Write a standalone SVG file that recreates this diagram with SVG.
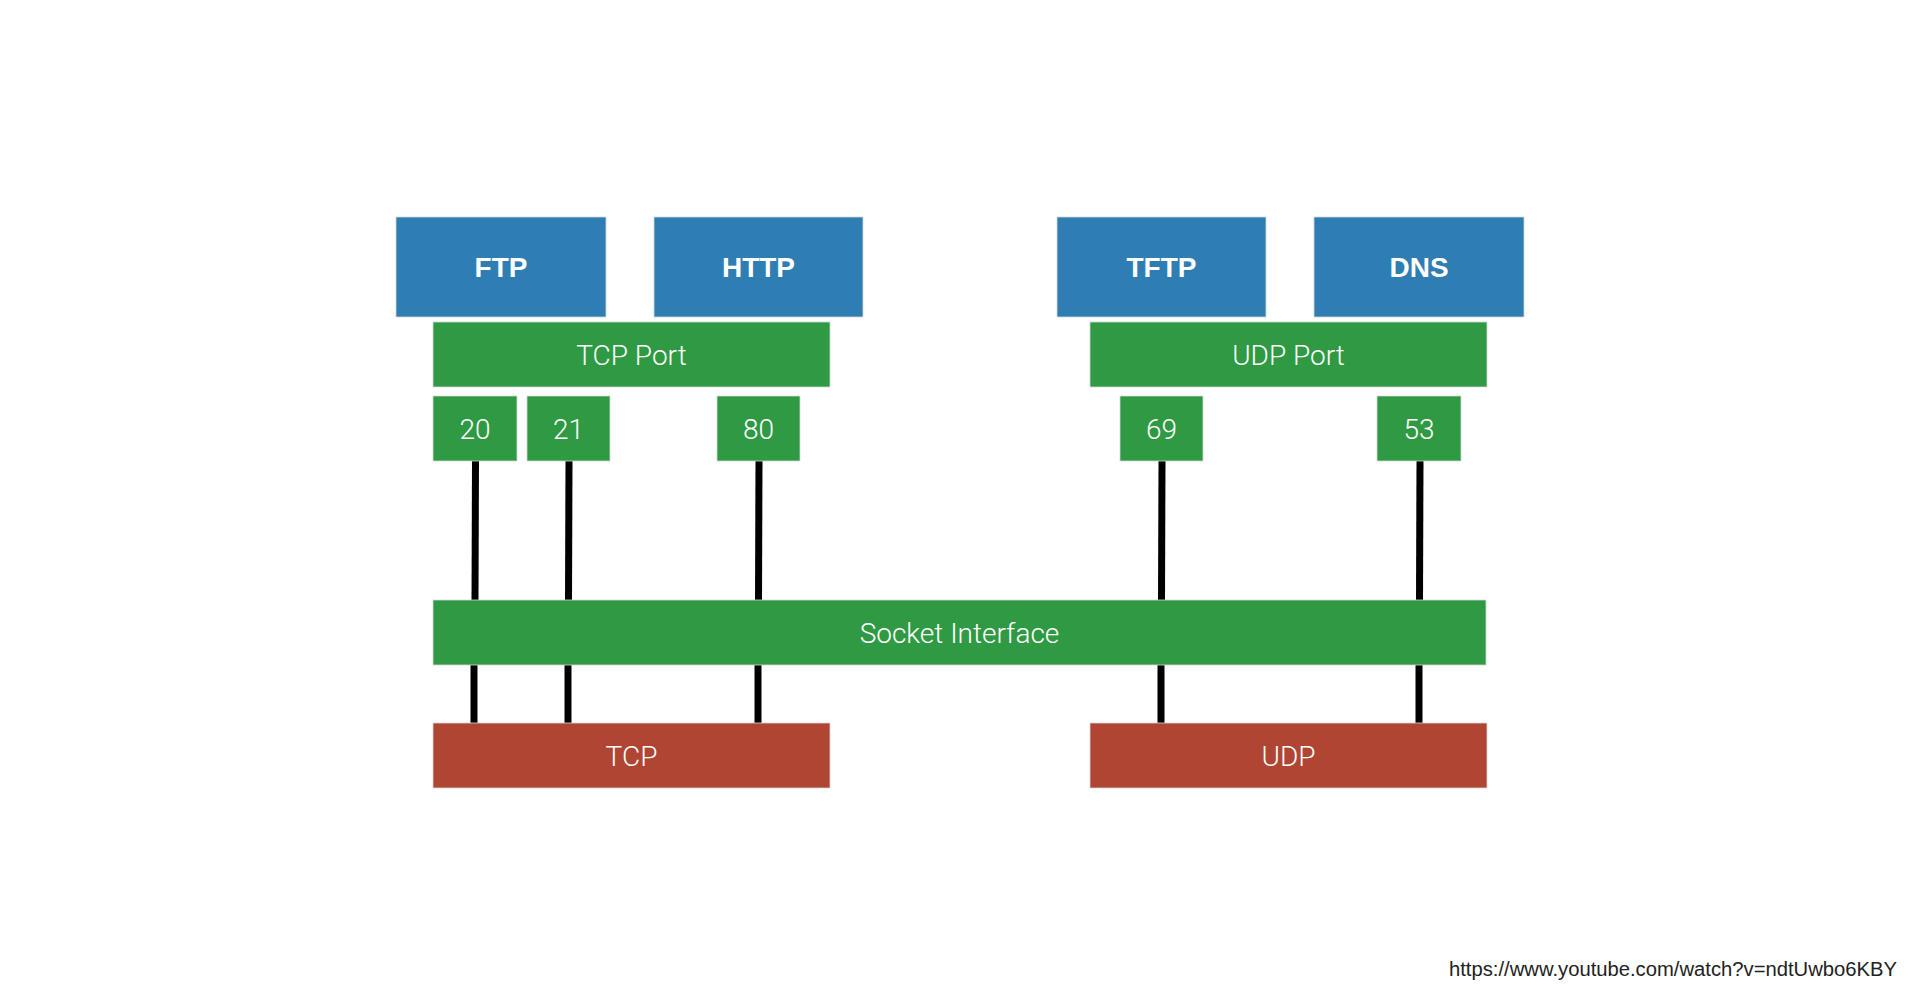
<svg xmlns="http://www.w3.org/2000/svg" width="1920" height="1005" viewBox="0 0 1920 1005">
<style>
.app{fill:#2e7db3;stroke:#d8d8d8;stroke-width:0.8}
.grn{fill:#2f9a43;stroke:#d8d8d8;stroke-width:0.8}
.red{fill:#b04534;stroke:#d8d8d8;stroke-width:0.8}
.tb{font-family:"Liberation Sans",Arial,sans-serif;font-weight:bold;font-size:28px;fill:#fff;text-anchor:middle}
.tl{font-family:Roboto,"Liberation Sans",Arial,sans-serif;font-weight:300;font-size:28px;fill:#fff;text-anchor:middle}
.ln{stroke:#000;stroke-width:7;fill:none}
</style>
<rect width="1920" height="1005" fill="#fff"/>
<g id="connectors">
<line class="ln" x1="475.5" y1="461" x2="475" y2="600"/>
<line class="ln" x1="569" y1="461" x2="568.5" y2="600"/>
<line class="ln" x1="759" y1="461" x2="758.5" y2="600"/>
<line class="ln" x1="1162" y1="461" x2="1161.5" y2="600"/>
<line class="ln" x1="1420" y1="461" x2="1419.5" y2="600"/>
<line class="ln" x1="474" y1="665" x2="474" y2="723"/>
<line class="ln" x1="568" y1="665" x2="568" y2="723"/>
<line class="ln" x1="758" y1="665" x2="758" y2="723"/>
<line class="ln" x1="1161" y1="665" x2="1161" y2="723"/>
<line class="ln" x1="1419" y1="665" x2="1419" y2="723"/>
</g>
<g id="ftp"><rect class="app" x="396" y="217" width="210" height="100"/><text class="tb" x="501" y="277">FTP</text></g>
<g id="http"><rect class="app" x="654" y="217" width="209" height="100"/><text class="tb" x="758.5" y="277">HTTP</text></g>
<g id="tftp"><rect class="app" x="1057" y="217" width="209" height="100"/><text class="tb" x="1161.5" y="277">TFTP</text></g>
<g id="dns"><rect class="app" x="1314" y="217" width="210" height="100"/><text class="tb" x="1419" y="277">DNS</text></g>
<g id="tcp-port"><rect class="grn" x="433" y="322" width="397" height="65"/><text class="tl" x="631.5" y="365">TCP Port</text></g>
<g id="udp-port"><rect class="grn" x="1090" y="322" width="397" height="65"/><text class="tl" x="1288.5" y="365">UDP Port</text></g>
<g id="p20"><rect class="grn" x="433" y="396" width="84" height="65"/><text class="tl" x="475" y="439">20</text></g>
<g id="p21"><rect class="grn" x="527" y="396" width="83" height="65"/><text class="tl" x="568.5" y="439">21</text></g>
<g id="p80"><rect class="grn" x="717" y="396" width="83" height="65"/><text class="tl" x="758.5" y="439">80</text></g>
<g id="p69"><rect class="grn" x="1120" y="396" width="83" height="65"/><text class="tl" x="1161.5" y="439">69</text></g>
<g id="p53"><rect class="grn" x="1377" y="396" width="84" height="65"/><text class="tl" x="1419" y="439">53</text></g>
<g id="socket"><rect class="grn" x="433" y="600" width="1053" height="65"/><text class="tl" x="959.5" y="643">Socket Interface</text></g>
<g id="tcp"><rect class="red" x="433" y="723" width="397" height="65"/><text class="tl" x="631.5" y="766">TCP</text></g>
<g id="udp"><rect class="red" x="1090" y="723" width="397" height="65"/><text class="tl" x="1288.5" y="766">UDP</text></g>
<text x="1449" y="976" font-family="'Liberation Sans',Arial,sans-serif" font-size="19.5" fill="#222" textLength="448" lengthAdjust="spacingAndGlyphs">https://www.youtube.com/watch?v=ndtUwbo6KBY</text>
</svg>
